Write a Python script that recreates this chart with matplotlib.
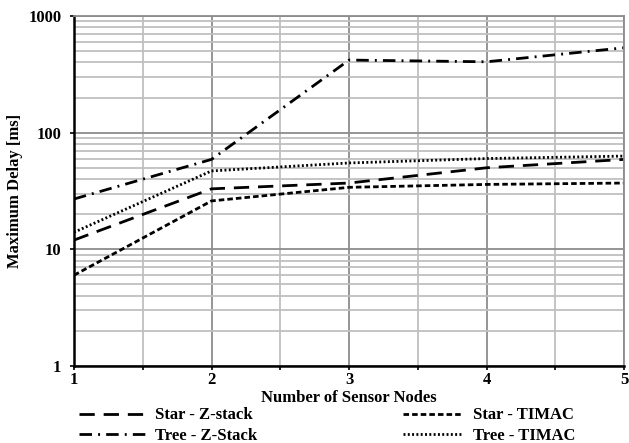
import matplotlib
matplotlib.use("Agg")
import matplotlib.pyplot as plt
from matplotlib.ticker import FixedLocator, LogLocator, NullFormatter

plt.rcParams['font.family'] = ['Liberation Serif', 'DejaVu Serif']
plt.rcParams['font.weight'] = 'bold'

nodes = [1, 2, 3, 4, 5]
star_zstack = [12, 33, 37, 50, 59]
star_timac = [6, 26, 34, 36, 37]
tree_zstack = [27, 59, 419, 405, 534]
tree_timac = [14, 47, 55, 60, 63]

fig = plt.figure(figsize=(6.29, 4.43), dpi=100)
ax = fig.add_axes([0.1176, 0.1738, 0.8746, 0.7901])

l1, = ax.plot(nodes, star_zstack, color='black', lw=2, dashes=(5.5, 3.2), label='Star - Z-stack')
l2, = ax.plot(nodes, star_timac, color='black', lw=2, dashes=(2.0, 1.1), label='Star - TIMAC')
l3, = ax.plot(nodes, tree_zstack, color='black', lw=2, dashes=(4.5, 2.2, 0.7, 2.2), label='Tree - Z-Stack')
l4, = ax.plot(nodes, tree_timac, color='black', lw=2, dashes=(0.7, 0.85), label='Tree - TIMAC')

ax.set_yscale('log')
ax.set_ylim(1, 1000)
ax.set_xlim(1, 5)
ax.xaxis.set_major_locator(FixedLocator(nodes))
ax.xaxis.set_minor_locator(FixedLocator([1.5, 2.5, 3.5, 4.5]))
ax.yaxis.set_major_locator(FixedLocator([1, 10, 100, 1000]))
ax.yaxis.set_major_formatter(plt.FuncFormatter(lambda v, p: f'{int(v)}'))
ax.yaxis.set_minor_locator(LogLocator(base=10, subs=range(2, 10)))
ax.yaxis.set_minor_formatter(NullFormatter())

ax.grid(which='major', color='#8c8c8c', lw=1.3)
ax.grid(which='minor', color='#bfbfbf', lw=1.3)
ax.set_axisbelow(True)

for s in ['top', 'right']:
    ax.spines[s].set_color('#8c8c8c')
    ax.spines[s].set_linewidth(1.3)
for s in ['left', 'bottom']:
    ax.spines[s].set_color('black')
    ax.spines[s].set_linewidth(1.8)

ax.tick_params(which='major', direction='out', length=3, width=1.2, labelsize=12, pad=6)
ax.tick_params(axis='x', which='major', pad=1)
ax.tick_params(axis='y', which='minor', length=0)
ax.tick_params(axis='x', which='minor', direction='out', length=3, width=1.2)

ax.set_xlabel('Number of Sensor Nodes', fontsize=12, fontweight='bold', labelpad=2)
ax.set_ylabel('Maximum Delay [ms]', fontsize=12, fontweight='bold', labelpad=4)

# two legend columns, Excel-style
leg_a = fig.legend([l1, l3], ['Star - Z-stack', 'Tree - Z-Stack'],
                   loc='center left', bbox_to_anchor=(0.1256, 0.0395),
                   frameon=False, fontsize=12, handlelength=4.14, handletextpad=0.42,
                   labelspacing=0.25, borderpad=0, borderaxespad=0)
leg_b = fig.legend([l2, l4], ['Star - TIMAC', 'Tree - TIMAC'],
                   loc='center left', bbox_to_anchor=(0.6407, 0.0395),
                   frameon=False, fontsize=12, handlelength=3.6, handletextpad=0.6,
                   labelspacing=0.25, borderpad=0, borderaxespad=0)

fig.savefig('out.png', dpi=100)
